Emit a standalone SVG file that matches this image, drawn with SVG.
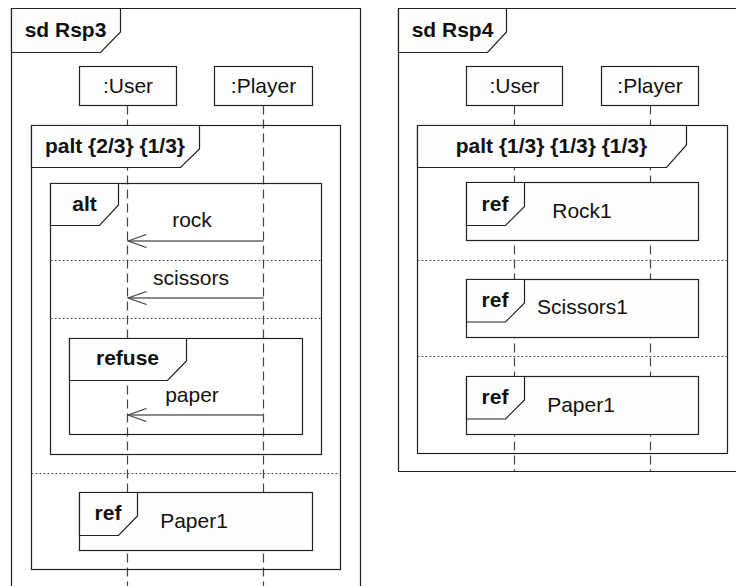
<svg xmlns="http://www.w3.org/2000/svg" width="736" height="586" viewBox="0 0 736 586">
  <style>
    .frame { fill: none; stroke: #222; stroke-width: 1.2; }
    .tab { fill: #fdfdfd; stroke: #222; stroke-width: 1.2; }
    .box { fill: #fdfdfd; stroke: #222; stroke-width: 1.2; }
    .life { stroke: #444; stroke-width: 1.2; stroke-dasharray: 9 5; fill: none; }
    .sep { stroke: #555; stroke-width: 1; stroke-dasharray: 2 2; fill: none; }
    .msg { stroke: #666; stroke-width: 1.5; fill: none; marker-end: url(#open); }
    .kw { font-family: "Liberation Sans", Arial, sans-serif; font-size: 21px; font-weight: bold; fill: #111; text-anchor: middle; }
    .lbl { font-family: "Liberation Sans", Arial, sans-serif; font-size: 21px; fill: #111; text-anchor: middle; }
  </style>
  <defs>
    <marker id="open" markerUnits="userSpaceOnUse" viewBox="0 0 20 14" refX="18.5" refY="7" markerWidth="20" markerHeight="14" orient="auto">
      <path d="M0,0.5 L18.5,7 L0,13.5" fill="none" stroke="#444" stroke-width="1.2"/>
    </marker>
  </defs>
  <rect width="736" height="586" fill="#fff"/>

  <!-- sd Rsp3 -->
  <g id="rsp3">
    <path class="frame" d="M11.5,600 V8.5 H360.5 V600"/>
    <polygon class="tab" points="11.5,8.5 120.5,8.5 120.5,32 100.5,52.5 11.5,52.5"/>
    <text class="kw" x="65.5" y="37">sd Rsp3</text>
  </g>
  <g id="rsp3-user">
    <rect class="box" x="79.5" y="66.5" width="97" height="39"/>
    <text class="lbl" x="128" y="93">:User</text>
  </g>
  <g id="rsp3-player">
    <rect class="box" x="214.5" y="66.5" width="98" height="39"/>
    <text class="lbl" x="263.5" y="93">:Player</text>
  </g>

  <!-- sd Rsp4 -->
  <g id="rsp4">
    <path class="frame" d="M740,471.5 H398.5 V8.5 H740"/>
    <polygon class="tab" points="398.5,8.5 506.5,8.5 506.5,32 487.5,52.5 398.5,52.5"/>
    <text class="kw" x="452.5" y="37">sd Rsp4</text>
  </g>
  <g id="rsp4-user">
    <rect class="box" x="466.5" y="66.5" width="96" height="39"/>
    <text class="lbl" x="514.5" y="93">:User</text>
  </g>
  <g id="rsp4-player">
    <rect class="box" x="601.5" y="66.5" width="97" height="39"/>
    <text class="lbl" x="650" y="93">:Player</text>
  </g>

  <!-- lifelines and messages -->
  <g id="connectors">
    <line class="life" x1="127.5" y1="105.5" x2="127.5" y2="590"/>
    <line class="life" x1="263.5" y1="105.5" x2="263.5" y2="590"/>
    <line class="life" x1="514.5" y1="105.5" x2="514.5" y2="471"/>
    <line class="life" x1="650.5" y1="105.5" x2="650.5" y2="471" stroke="#777"/>
  </g>

  <!-- Rsp3 fragments -->
  <g id="rsp3-palt">
    <rect class="frame" x="31.5" y="125.5" width="309" height="444"/>
    <polygon class="tab" points="31.5,125.5 199.5,125.5 199.5,149 180.5,167.5 31.5,167.5"/>
    <text class="kw" x="115" y="153">palt {2/3} {1/3}</text>
    <line class="sep" x1="31.5" y1="473.5" x2="340.5" y2="473.5"/>
  </g>
  <g id="rsp3-alt">
    <rect class="frame" x="50.5" y="183.5" width="271" height="271"/>
    <polygon class="tab" points="50.5,183.5 118.5,183.5 118.5,205 99.5,225.5 50.5,225.5"/>
    <text class="kw" x="84.5" y="211">alt</text>
    <line class="sep" x1="50.5" y1="260.5" x2="321.5" y2="260.5"/>
    <line class="sep" x1="50.5" y1="318.5" x2="321.5" y2="318.5"/>
  </g>
  <g id="rsp3-refuse">
    <rect class="frame" x="69.5" y="338.5" width="233" height="96"/>
    <polygon class="tab" points="69.5,338.5 186.5,338.5 186.5,361 167.5,380.5 69.5,380.5"/>
    <text class="kw" x="127.5" y="365">refuse</text>
  </g>
  <g id="rsp3-messages">
    <line class="msg" x1="263.5" y1="241" x2="128" y2="241"/>
    <text class="lbl" x="192" y="227">rock</text>
    <line class="msg" x1="263.5" y1="298" x2="128" y2="298"/>
    <text class="lbl" x="191" y="285">scissors</text>
    <line class="msg" x1="263.5" y1="415" x2="128" y2="415"/>
    <text class="lbl" x="192" y="402">paper</text>
  </g>
  <g id="rsp3-ref-paper1">
    <rect class="box" x="79.5" y="492.5" width="233" height="58"/>
    <polygon class="tab" points="79.5,492.5 137.5,492.5 137.5,516 118.5,535.5 79.5,535.5"/>
    <text class="kw" x="108" y="520">ref</text>
    <text class="lbl" x="194" y="528">Paper1</text>
  </g>

  <!-- Rsp4 fragments -->
  <g id="rsp4-palt">
    <rect class="frame" x="417.5" y="125.5" width="310" height="328"/>
    <polygon class="tab" points="417.5,125.5 686.5,125.5 686.5,145 666.5,167.5 417.5,167.5"/>
    <text class="kw" x="551.5" y="153">palt {1/3} {1/3} {1/3}</text>
    <line class="sep" x1="417.5" y1="260.5" x2="727.5" y2="260.5"/>
    <line class="sep" x1="417.5" y1="356.5" x2="727.5" y2="356.5"/>
  </g>
  <g id="rsp4-ref-rock1">
    <rect class="box" x="466.5" y="182.5" width="232" height="58"/>
    <polygon class="tab" points="466.5,182.5 524.5,182.5 524.5,206.5 505.5,225.5 466.5,225.5"/>
    <text class="kw" x="495" y="211">ref</text>
    <text class="lbl" x="582" y="218">Rock1</text>
  </g>
  <g id="rsp4-ref-scissors1">
    <rect class="box" x="466.5" y="279.5" width="232" height="58"/>
    <polygon class="tab" points="466.5,279.5 524.5,279.5 524.5,303 505.5,322 466.5,322"/>
    <text class="kw" x="495" y="307">ref</text>
    <text class="lbl" x="582.5" y="314">Scissors1</text>
  </g>
  <g id="rsp4-ref-paper1">
    <rect class="box" x="466.5" y="376.5" width="232" height="58"/>
    <polygon class="tab" points="466.5,376.5 524.5,376.5 524.5,400 505.5,419 466.5,419"/>
    <text class="kw" x="495" y="404">ref</text>
    <text class="lbl" x="581" y="411.5">Paper1</text>
  </g>
</svg>
